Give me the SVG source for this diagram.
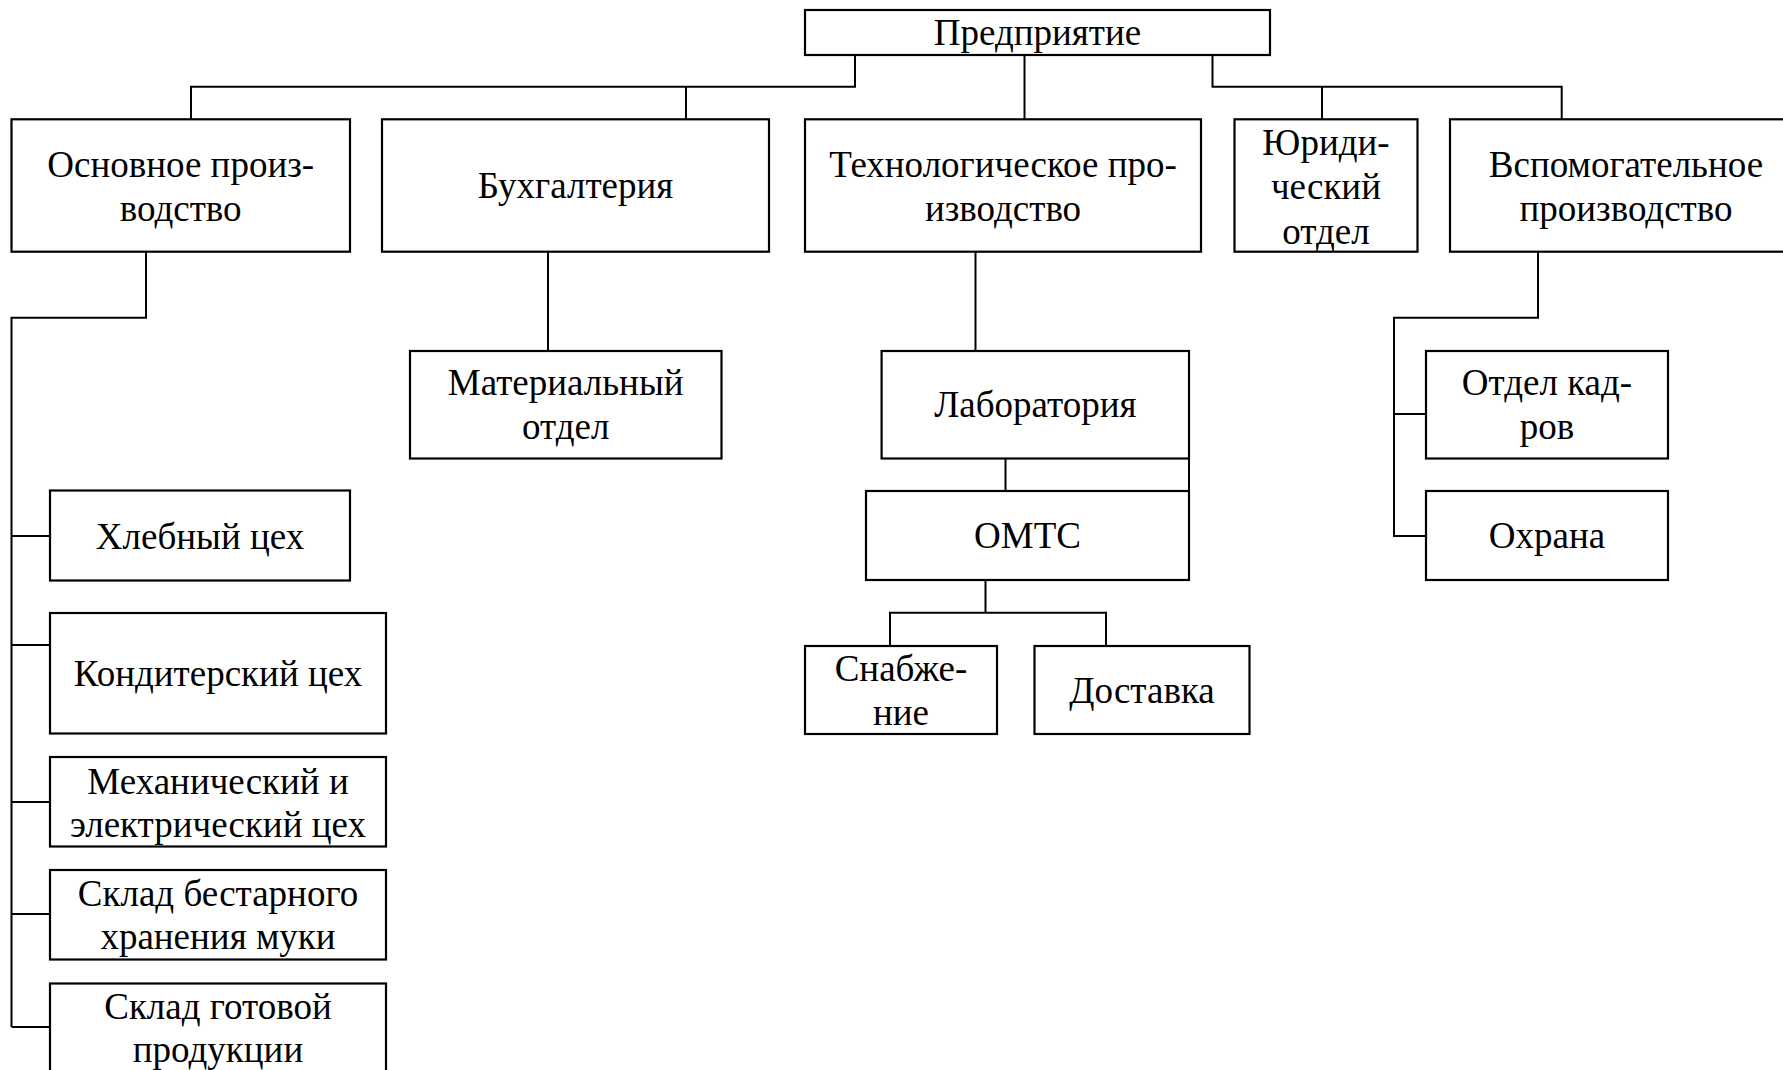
<svg xmlns="http://www.w3.org/2000/svg" width="1783" height="1070" viewBox="0 0 1783 1070">
<style>
.box{fill:#fff;stroke:#000;stroke-width:2.2}
.t{font-family:"Liberation Serif","Times New Roman",serif;font-size:37px;text-anchor:middle;fill:#000}
.c{fill:none;stroke:#000;stroke-width:2}
</style>
<rect width="1783" height="1070" fill="#fff"/>
<g id="connectors">
<path class="c" d="M855,55 V86.7 H191 V119.3"/>
<path class="c" d="M686,86.7 V119.3"/>
<path class="c" d="M1024.5,55 V119.3"/>
<path class="c" d="M1212.5,55 V86.7 H1561.7 V119.3"/>
<path class="c" d="M1322,86.7 V119.3"/>
<path class="c" d="M146,251.7 V317.7 H11.5 V1027"/>
<path class="c" d="M11.5,536 H50 M11.5,645 H50 M11.5,802 H50 M11.5,914 H50 M11.5,1027 H50"/>
<path class="c" d="M548,251.7 V351"/>
<path class="c" d="M975.5,251.7 V351"/>
<path class="c" d="M1189,458.5 V491"/>
<path class="c" d="M1005.5,458.5 V491"/>
<path class="c" d="M985.5,580 V612.7 M890,646 V612.7 H1106 V646"/>
<path class="c" d="M1538,251.7 V317.7 H1394 V536 H1426 M1394,414 H1426"/>
</g>
<g id="n-predpriyatie"><rect class="box" x="805" y="10" width="465" height="45"/><text class="t" x="1037.5" y="45">Предприятие</text></g>
<g id="n-osnovnoe"><rect class="box" x="11.5" y="119.3" width="338.5" height="132.4"/><text class="t" x="180.7" y="176.5">Основное произ-</text><text class="t" x="180.7" y="221">водство</text></g>
<g id="n-buhgalteriya"><rect class="box" x="382" y="119.3" width="387" height="132.4"/><text class="t" x="575.5" y="198">Бухгалтерия</text></g>
<g id="n-tehnolog"><rect class="box" x="805" y="119.3" width="396" height="132.4"/><text class="t" x="1003" y="176.5">Технологическое про-</text><text class="t" x="1003" y="221">изводство</text></g>
<g id="n-yuridich"><rect class="box" x="1234.5" y="119.3" width="183" height="132.4"/><text class="t" x="1326" y="154.5">Юриди-</text><text class="t" x="1326" y="199">ческий</text><text class="t" x="1326" y="243.5">отдел</text></g>
<g id="n-vspomog"><rect class="box" x="1450" y="119.3" width="352" height="132.4"/><text class="t" x="1626" y="176.5">Вспомогательное</text><text class="t" x="1626" y="221">производство</text></g>
<g id="n-material"><rect class="box" x="410" y="351" width="311.5" height="107.5"/><text class="t" x="565.7" y="394.5">Материальный</text><text class="t" x="565.7" y="439">отдел</text></g>
<g id="n-laboratoriya"><rect class="box" x="881.6" y="351" width="307.4" height="107.5"/><text class="t" x="1035.3" y="417">Лаборатория</text></g>
<g id="n-omts"><rect class="box" x="866" y="491" width="323" height="89"/><text class="t" x="1027.5" y="548">ОМТС</text></g>
<g id="n-snabzhenie"><rect class="box" x="805" y="646" width="192" height="88"/><text class="t" x="901" y="681">Снабже-</text><text class="t" x="901" y="724.5">ние</text></g>
<g id="n-dostavka"><rect class="box" x="1034.5" y="646" width="215" height="88"/><text class="t" x="1142" y="702.5">Доставка</text></g>
<g id="n-kadry"><rect class="box" x="1426" y="351" width="242" height="107.5"/><text class="t" x="1547" y="394.5">Отдел кад-</text><text class="t" x="1547" y="439">ров</text></g>
<g id="n-ohrana"><rect class="box" x="1426" y="491" width="242" height="89"/><text class="t" x="1547" y="548">Охрана</text></g>
<g id="n-hlebny"><rect class="box" x="50" y="490.5" width="300" height="90"/><text class="t" x="200" y="549">Хлебный цех</text></g>
<g id="n-konditer"><rect class="box" x="50" y="613" width="336" height="120.5"/><text class="t" x="218" y="686">Кондитерский цех</text></g>
<g id="n-mehanich"><rect class="box" x="50" y="757" width="336" height="89.5"/><text class="t" x="218" y="794">Механический и</text><text class="t" x="218" y="837">электрический цех</text></g>
<g id="n-sklad-bestar"><rect class="box" x="50" y="870" width="336" height="89.5"/><text class="t" x="218" y="905.5">Склад бестарного</text><text class="t" x="218" y="948.5">хранения муки</text></g>
<g id="n-sklad-gotov"><rect class="box" x="50" y="983.5" width="336" height="100"/><text class="t" x="218" y="1019">Склад готовой</text><text class="t" x="218" y="1062">продукции</text></g>
</svg>
